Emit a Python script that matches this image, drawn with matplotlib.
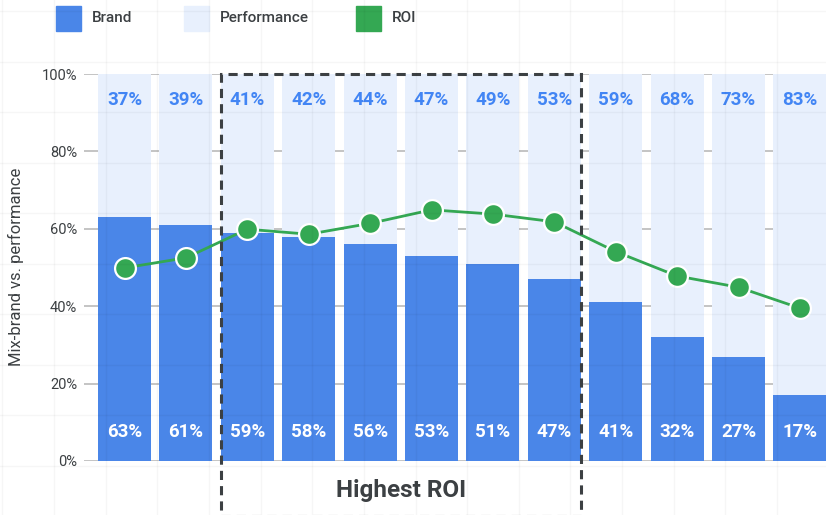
import matplotlib
matplotlib.use("Agg")
import matplotlib.pyplot as plt
import numpy as np
from matplotlib.lines import Line2D
from matplotlib.patches import Rectangle

plt.rcParams["font.family"] = ["Roboto", "DejaVu Sans"]

# data
brand_share = [63, 61, 59, 58, 56, 53, 51, 47, 41, 32, 27, 17]
performance_share = [100 - b for b in brand_share]
roi_values = [49.9, 52.5, 59.9, 58.6, 61.4, 64.9, 63.8, 61.8, 54.1, 47.8, 44.9, 39.5]
y_ticks = [0, 20, 40, 60, 80, 100]
highest_roi_range = (2, 7)  # bar indices covered by the dashed box

BRAND_COLOR = "#4a86e8"
PERF_COLOR = "#e8f0fd"
ROI_COLOR = "#34a853"
PERF_TEXT = "#4285f4"
DARK = "#3c4043"

W, H = 826, 515
fig = plt.figure(figsize=(W / 100, H / 100), dpi=100)
fig.patch.set_facecolor("white")

ax = fig.add_axes([84 / W, (H - 461) / H, 1 - 84 / W, (461 - 74) / H])
ax.set_facecolor("none")

x = np.arange(len(brand_share))
bw = 0.863
ax.bar(x, brand_share, width=bw, color=BRAND_COLOR, zorder=2)
ax.bar(x, performance_share, width=bw, bottom=brand_share, color=PERF_COLOR, zorder=2)

for xi, b, p in zip(x, brand_share, performance_share):
    ax.text(xi, 7.6, f"{b}%", ha="center", va="center", color="white",
            fontsize=13.5, fontweight="bold", zorder=4)
    ax.text(xi, 93.2, f"{p}%", ha="center", va="center", color=PERF_TEXT,
            fontsize=13.5, fontweight="bold", zorder=4)

ax.plot(x, roi_values, color=ROI_COLOR, lw=2, zorder=5)
ax.plot(x, roi_values, "o", color=ROI_COLOR, markersize=15, markeredgecolor="white",
        markeredgewidth=1.6, zorder=6)

ax.set_xlim(-0.66, 11.425)
ax.set_ylim(0, 100)
ax.set_yticks(y_ticks)
ax.set_yticklabels([f"{t}%" for t in y_ticks], color=DARK, fontsize=10.5)
ax.tick_params(axis="y", length=0, pad=5)
ax.set_xticks([])
ax.grid(axis="y", color="#c4c4c4", lw=1.4, zorder=0)
ax.set_axisbelow(True)
for s in ax.spines.values():
    s.set_visible(False)

# dashed "Highest ROI" box
lo, hi = highest_roi_range
box = Rectangle((lo - 0.43, -14.2), hi - lo + 0.86, 114.2, fill=False,
                edgecolor=DARK, lw=2.2, linestyle=(0, (3, 2)), clip_on=False, zorder=7)
ax.add_patch(box)
ax.text((lo + hi) / 2, -7.5, "Highest ROI", ha="center", va="center",
        fontsize=17.5, fontweight="bold", color=DARK, clip_on=False)

fig.text(16 / W, 1 - 267 / H, "Mix-brand vs. performance", rotation=90,
         ha="center", va="center", fontsize=12, color=DARK)

# legend
legend_items = [("Brand", BRAND_COLOR, 56), ("Performance", PERF_COLOR, 184), ("ROI", ROI_COLOR, 356)]
for label, color, px in legend_items:
    fig.add_artist(Rectangle((px / W, 1 - 31 / H), 25 / W, 25 / H, color=color,
                             transform=fig.transFigure))
    fig.text((px + 36) / W, 1 - 18.5 / H, label, ha="left", va="center",
             fontsize=11, fontweight="medium", color=DARK)

# faint canvas grid over everything
for k in range(16):
    gx = (2.4 + 51.64 * k) / W
    fig.add_artist(Line2D([gx, gx], [0, 1], color="black", alpha=0.035, lw=1,
                          transform=fig.transFigure, zorder=10))
for k in range(10):
    gy = 1 - (11 + 50.5 * k) / H
    fig.add_artist(Line2D([0, 1], [gy, gy], color="black", alpha=0.035, lw=1,
                          transform=fig.transFigure, zorder=10))

fig.savefig("out.png", dpi=100)
